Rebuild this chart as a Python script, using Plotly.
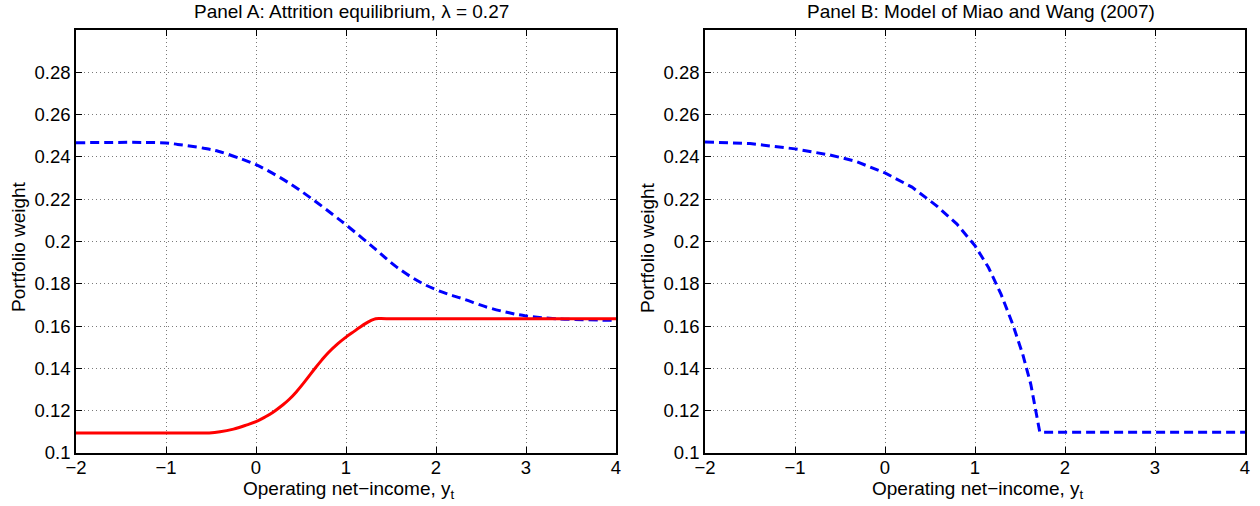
import plotly.graph_objects as go

# Panel A: Attrition equilibrium, lambda = 0.27
a_blue_x = [-2.0, -1.0, -0.87, -0.58, -0.42, -0.16, 0.0, 0.11, 0.38, 0.63, 0.87, 1.0, 1.31,
            1.56, 1.83, 2.08, 2.3, 2.57, 2.8, 3.0, 3.33, 4.0]
a_blue_y = [0.2467, 0.2466, 0.2459, 0.2441, 0.2427, 0.2390, 0.2363, 0.2340, 0.2273, 0.2199, 0.2122,
            0.2079, 0.1970, 0.1880, 0.1806, 0.1759, 0.1729, 0.1689, 0.1664, 0.1648, 0.1635, 0.1627]
a_red_x = [-2.0, -0.7, -0.52, -0.4, -0.25, -0.1, 0.0, 0.1, 0.19, 0.3, 0.37, 0.45, 0.55, 0.65, 0.73,
           0.8, 0.91, 1.0, 1.09, 1.15, 1.22, 1.27, 1.33, 1.45, 4.0]
a_red_y = [0.1095, 0.1095, 0.1095, 0.1100, 0.1113, 0.1133, 0.1148, 0.1170, 0.1193, 0.1228, 0.1254,
           0.1290, 0.1342, 0.1397, 0.1439, 0.1473, 0.1517, 0.1548, 0.1575, 0.1593, 0.1613, 0.1625,
           0.1635, 0.1635, 0.1635]

# Panel B: Model of Miao and Wang (2007)
b_blue_x = [-2.0, -1.5, -1.0, -0.6, -0.33, 0.0, 0.3, 0.57, 0.8, 1.0, 1.15, 1.29, 1.42, 1.53,
            1.62, 1.69, 1.72, 4.0]
b_blue_y = [0.2471, 0.2463, 0.2438, 0.2408, 0.2380, 0.2324, 0.2257, 0.2170, 0.2082, 0.1980,
            0.1877, 0.1750, 0.1608, 0.1467, 0.1325, 0.1167, 0.1098, 0.1098]

x_ticks = [-2, -1, 0, 1, 2, 3, 4]
y_ticks = [0.1, 0.12, 0.14, 0.16, 0.18, 0.2, 0.22, 0.24, 0.26, 0.28]
y_ticktext = ["0.1", "0.12", "0.14", "0.16", "0.18", "0.2", "0.22", "0.24", "0.26", "0.28"]

titles = ["Panel A: Attrition equilibrium, λ = 0.27", "Panel B: Model of Miao and Wang (2007)"]
x_title = "Operating net−income, y<sub>t</sub>"
y_title = "Portfolio weight"

FONT = "Liberation Sans, Arial, sans-serif"
DASH = "9px,5px"
TICK_SIZE = 18.5
TITLE_SIZE = 19

fig = go.Figure()
fig.add_trace(go.Scatter(x=a_blue_x, y=a_blue_y, mode="lines", line=dict(color="#0000ff", width=3, dash=DASH),
                         xaxis="x", yaxis="y", showlegend=False, line_shape="spline"))
fig.add_trace(go.Scatter(x=a_red_x, y=a_red_y, mode="lines", line=dict(color="#ff0000", width=3),
                         xaxis="x", yaxis="y", showlegend=False, line_shape="spline"))
fig.add_trace(go.Scatter(x=b_blue_x, y=b_blue_y, mode="lines", line=dict(color="#0000ff", width=3, dash=DASH),
                         xaxis="x2", yaxis="y2", showlegend=False))

W, H = 1260, 506
ydom = [1 - 453 / H, 1 - 30 / H]
xdomA = [76 / W, 616 / W]
xdomB = [705 / W, 1245 / W]

def xax(dom, anchor):
    return dict(domain=dom, anchor=anchor, range=[-2, 4], tickvals=x_ticks, automargin=False,
                showgrid=True, gridcolor="#7a7a7a", griddash="1px,3px", gridwidth=1,
                zeroline=False, showline=True, linecolor="black", linewidth=1.5, mirror="allticks",
                ticks="inside", ticklen=6, tickcolor="black", ticklabelstandoff=-3,
                tickfont=dict(family=FONT, size=TICK_SIZE, color="black"))

def yax(anchor):
    return dict(domain=ydom, anchor=anchor, range=[0.1, 0.3], tickvals=y_ticks, ticktext=y_ticktext,
                automargin=False,
                showgrid=True, gridcolor="#7a7a7a", griddash="1px,3px", gridwidth=1,
                zeroline=False, showline=True, linecolor="black", linewidth=1.5, mirror="allticks",
                ticks="inside", ticklen=6, tickcolor="black",
                tickfont=dict(family=FONT, size=TICK_SIZE, color="black"))

annots = []
for dom, t in zip([xdomA, xdomB], titles):
    cx = (dom[0] + dom[1]) / 2
    annots.append(dict(text=t, x=cx + 6 / W, y=1 - 12 / H, xref="paper", yref="paper", showarrow=False,
                       font=dict(family=FONT, size=TITLE_SIZE, color="black"),
                       xanchor="center", yanchor="middle"))
    annots.append(dict(text=x_title, x=cx + 3 / W, y=1 - 490 / H, xref="paper", yref="paper",
                       showarrow=False, font=dict(family=FONT, size=TITLE_SIZE, color="black"),
                       xanchor="center", yanchor="middle"))
    annots.append(dict(text=y_title, x=dom[0] - 58 / W, y=1 - 247 / H, xref="paper", yref="paper",
                       showarrow=False, textangle=-90, font=dict(family=FONT, size=TITLE_SIZE, color="black"),
                       xanchor="center", yanchor="middle"))

fig.update_layout(
    width=W, height=H,
    margin=dict(l=0, r=0, t=0, b=0, pad=0, autoexpand=False),
    paper_bgcolor="white", plot_bgcolor="white",
    xaxis=xax(xdomA, "y"), yaxis=yax("x"),
    xaxis2=xax(xdomB, "y2"), yaxis2=yax("x2"),
    annotations=annots,
)

fig.write_html("out.html", config={"displayModeBar": False},
               post_script="document.body.style.margin='0';")
